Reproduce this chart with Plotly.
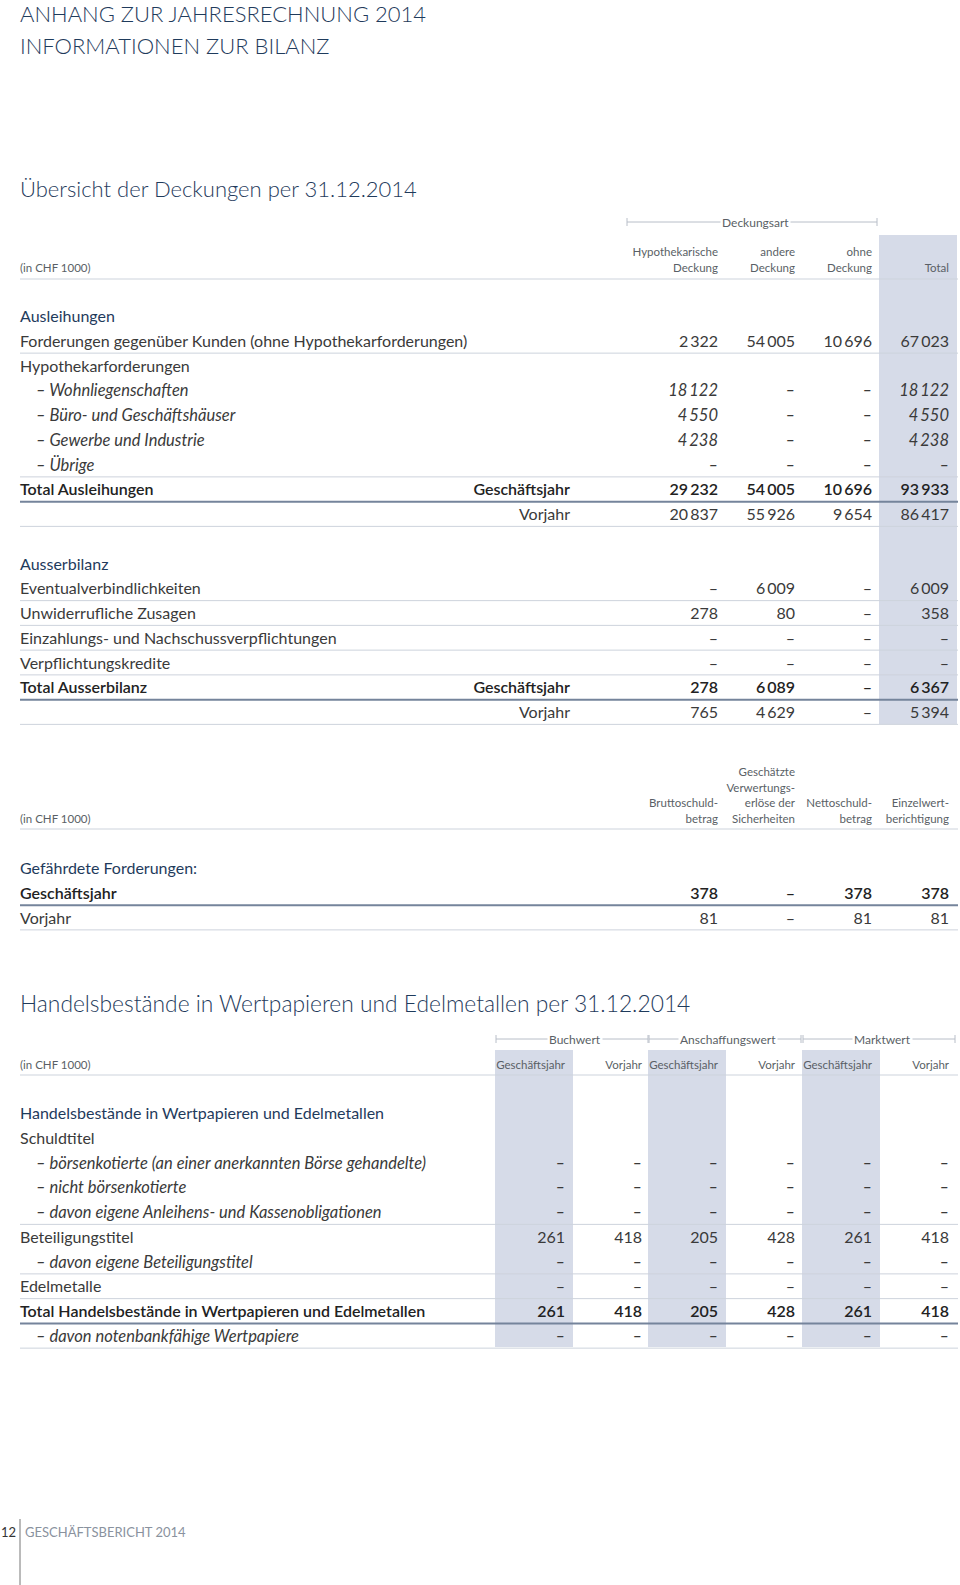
import plotly.graph_objects as go

W, H = 960, 1585
FONT = "Lato"
NAVY = "#1f3b5c"
TXT = "#3a3a3a"
HDR = "#5a5f66"
SHADE = "#d6dbe8"
THIN = "#cdd3dc"
THICK = "#75849b"

# ---------------- data ----------------
page_title = ["ANHANG ZUR JAHRESRECHNUNG 2014", "INFORMATIONEN ZUR BILANZ"]
unit_label = "(in CHF 1000)"

t1_title = "Übersicht der Deckungen per 31.12.2014"
t1_group = "Deckungsart"
t1_cols = ["Hypothekarische<br>Deckung", "andere<br>Deckung", "ohne<br>Deckung", "Total"]

loan_head = "Ausleihungen"
loan_labels = ["Forderungen gegenüber Kunden (ohne Hypothekarforderungen)",
               "Hypothekarforderungen", "– Wohnliegenschaften",
               "– Büro- und Geschäftshäuser", "– Gewerbe und Industrie",
               "– Übrige", "Total Ausleihungen", ""]
loan_period = ["", "", "", "", "", "", "Geschäftsjahr", "Vorjahr"]
loan_style = ["reg", "reg", "ital", "ital", "ital", "ital", "bold", "reg"]
loan_rule = ["thin", "", "", "", "", "thin", "thick", "thin"]
loan_hypo = [2322, "", 18122, 4550, 4238, None, 29232, 20837]
loan_other = [54005, "", None, None, None, None, 54005, 55926]
loan_none = [10696, "", None, None, None, None, 10696, 9654]
loan_total = [67023, "", 18122, 4550, 4238, None, 93933, 86417]

off_head = "Ausserbilanz"
off_labels = ["Eventualverbindlichkeiten", "Unwiderrufliche Zusagen",
              "Einzahlungs- und Nachschussverpflichtungen", "Verpflichtungskredite",
              "Total Ausserbilanz", ""]
off_period = ["", "", "", "", "Geschäftsjahr", "Vorjahr"]
off_style = ["reg", "reg", "reg", "reg", "bold", "reg"]
off_rule = ["thin", "thin", "thin", "thin", "thick", "thin"]
off_hypo = [None, 278, None, None, 278, 765]
off_other = [6009, 80, None, None, 6089, 4629]
off_none = [None, None, None, None, None, None]
off_total = [6009, 358, None, None, 6367, 5394]

t2_cols = ["Bruttoschuld-<br>betrag", "Geschätzte<br>Verwertungs-<br>erlöse der<br>Sicherheiten",
           "Nettoschuld-<br>betrag", "Einzelwert-<br>berichtigung"]
risk_head = "Gefährdete Forderungen:"
risk_labels = ["Geschäftsjahr", "Vorjahr"]
risk_style = ["bold", "reg"]
risk_rule = ["thick", "thin"]
risk_gross = [378, 81]
risk_proceeds = [None, None]
risk_net = [378, 81]
risk_allow = [378, 81]

t3_title = "Handelsbestände in Wertpapieren und Edelmetallen per 31.12.2014"
t3_groups = ["Buchwert", "Anschaffungswert", "Marktwert"]
t3_sub = ["Geschäftsjahr", "Vorjahr"]
trade_head = "Handelsbestände in Wertpapieren und Edelmetallen"
trade_labels = ["Schuldtitel", "– börsenkotierte (an einer anerkannten Börse gehandelte)",
                "– nicht börsenkotierte", "– davon eigene Anleihens- und Kassenobligationen",
                "Beteiligungstitel", "– davon eigene Beteiligungstitel", "Edelmetalle",
                "Total Handelsbestände in Wertpapieren und Edelmetallen",
                "– davon notenbankfähige Wertpapiere"]
trade_style = ["reg", "ital", "ital", "ital", "reg", "ital", "reg", "bold", "ital"]
trade_rule = ["", "", "", "thin", "", "thin", "thin", "thick", "thin"]
book_cur = ["", None, None, None, 261, None, None, 261, None]
book_prev = ["", None, None, None, 418, None, None, 418, None]
cost_cur = ["", None, None, None, 205, None, None, 205, None]
cost_prev = ["", None, None, None, 428, None, None, 428, None]
mkt_cur = ["", None, None, None, 261, None, None, 261, None]
mkt_prev = ["", None, None, None, 418, None, None, 418, None]

footer_page = "12"
footer_text = "GESCHÄFTSBERICHT 2014"

# ---------------- layout constants ----------------
X_LEFT, X_RIGHT = 20, 958
PITCH = 24.75
T1_COLX = [718, 795, 872, 949]
T3_COLX = [565, 642, 718, 795, 872, 949]
PERIOD_X = 570
BODY = 16
HSIZE = 11.5
DY = 2  # optical baseline correction for text


def fmt(v):
    if v is None:
        return "–"
    if v == "":
        return ""
    return f"{v:,}".replace(",", "\u2009")


fig = go.Figure()
shapes = []


def text(xs, ys, texts, align="left", size=BODY, color=TXT, weight=400, style="normal"):
    pos = {"left": "middle right", "right": "middle left", "center": "middle center"}[align]
    fig.add_trace(go.Scatter(
        x=xs, y=[v + DY for v in ys], text=texts, mode="text", textposition=pos,
        textfont=dict(family=FONT, size=size, color=color, weight=weight, style=style),
        hoverinfo="skip", showlegend=False, cliponaxis=False))


def hline(y, kind):
    if not kind:
        return
    shapes.append(dict(type="line", xref="x", yref="y", x0=X_LEFT, x1=X_RIGHT, y0=y, y1=y,
                       line=dict(color=THIN if kind == "thin" else THICK,
                                 width=1 if kind == "thin" else 2), layer="above"))


def shade(xr, y0, y1):
    shapes.append(dict(type="rect", xref="x", yref="y", x0=xr - 70, x1=xr + 8, y0=y0, y1=y1,
                       fillcolor=SHADE, line=dict(width=0), layer="below"))


def bracket(x0, x1, y, label):
    shapes.append(dict(type="line", xref="x", yref="y", x0=x0, x1=x1, y0=y, y1=y,
                       line=dict(color="#b8bec8", width=1)))
    for xx in (x0, x1):
        shapes.append(dict(type="line", xref="x", yref="y", x0=xx, x1=xx, y0=y - 4, y1=y + 4,
                           line=dict(color="#b8bec8", width=1)))
    fig.add_annotation(x=(x0 + x1) / 2 + 3, y=y, xref="x", yref="y", text=label, showarrow=False,
                       bgcolor="white", font=dict(family=FONT, size=12, color=HDR), borderpad=1)


def header_block(xs, labels, y_bottom, lp=15.6, size=HSIZE):
    for x, lab in zip(xs, labels):
        lines = lab.split("<br>")
        n = len(lines)
        ys = [y_bottom - (n - 1 - i) * lp for i in range(n)]
        text([x] * n, ys, lines, align="right", size=size, color=HDR)


def style_kw(st):
    if st == "bold":
        return dict(weight=600, color="#222222", size=16)
    if st == "ital":
        return dict(style="italic", size=16.5)
    return {}


def body_rows(y_start, labels, styles, rules, cols, colx, periods=None):
    for i, lab in enumerate(labels):
        y = y_start + i * PITCH
        kw = style_kw(styles[i])
        indent = 36 if lab.startswith("–") else X_LEFT
        text([indent], [y], [lab], align="left", **kw)
        if periods and periods[i]:
            text([PERIOD_X], [y], [periods[i]], align="right", **kw)
        vals = [fmt(c[i]) for c in cols]
        text(colx, [y] * len(colx), vals, align="right", **kw)
        hline(y + PITCH / 2, rules[i])


# ---------------- page titles ----------------
text([X_LEFT, X_LEFT], [14, 46], page_title, size=22, color=NAVY, weight=300)
text([X_LEFT], [189], [t1_title], size=22, color=NAVY, weight=300)

# ---------------- table 1 ----------------
shade(T1_COLX[3], 235, 724)
bracket(627, 877, 222, t1_group)
header_block(T1_COLX, t1_cols, 267)
text([X_LEFT], [267], [unit_label], size=HSIZE, color=HDR)
hline(279, "thin")
y1 = 316
text([X_LEFT], [y1], [loan_head], color=NAVY)
body_rows(y1 + PITCH, loan_labels, loan_style, loan_rule,
          [loan_hypo, loan_other, loan_none, loan_total], T1_COLX, loan_period)
y1b = y1 + 10 * PITCH
text([X_LEFT], [y1b], [off_head], color=NAVY)
body_rows(y1b + PITCH, off_labels, off_style, off_rule,
          [off_hypo, off_other, off_none, off_total], T1_COLX, off_period)

# ---------------- table 2 ----------------
header_block(T1_COLX, t2_cols, 818)
text([X_LEFT], [818], [unit_label], size=HSIZE, color=HDR)
hline(829, "thin")
y2 = 868
text([X_LEFT], [y2], [risk_head], color=NAVY)
body_rows(y2 + PITCH, risk_labels, risk_style, risk_rule,
          [risk_gross, risk_proceeds, risk_net, risk_allow], T1_COLX)

# ---------------- table 3 ----------------
text([X_LEFT], [1004], [t3_title], size=22.8, color=NAVY, weight=300)
for k in (0, 2, 4):
    shade(T3_COLX[k], 1050, 1347)
for g, lab in enumerate(t3_groups):
    x0 = T3_COLX[2 * g] - 69
    x1 = T3_COLX[2 * g + 1] + 6
    bracket(x0, x1, 1039, lab)
header_block(T3_COLX, t3_sub * 3, 1064)
text([X_LEFT], [1064], [unit_label], size=HSIZE, color=HDR)
hline(1075, "thin")
y3 = 1113
text([X_LEFT], [y3], [trade_head], color=NAVY)
body_rows(y3 + PITCH, trade_labels, trade_style, trade_rule,
          [book_cur, book_prev, cost_cur, cost_prev, mkt_cur, mkt_prev], T3_COLX)

# ---------------- footer ----------------
text([16], [1532], [footer_page], align="right", size=13, color="#333333")
text([25], [1532], [footer_text], size=13, color="#8a929e")
shapes.append(dict(type="line", xref="x", yref="y", x0=20, x1=20, y0=1519, y1=1585,
                   line=dict(color="#777777", width=1)))

fig.update_layout(
    width=W, height=H, margin=dict(l=0, r=0, t=0, b=0),
    paper_bgcolor="white", plot_bgcolor="white",
    xaxis=dict(range=[0, W], visible=False, fixedrange=True),
    yaxis=dict(range=[H, 0], visible=False, fixedrange=True),
    shapes=shapes, showlegend=False,
)
fig.write_html("out.html", config={"displayModeBar": False},
               post_script="document.body.style.margin='0';document.body.style.overflow='hidden';")
